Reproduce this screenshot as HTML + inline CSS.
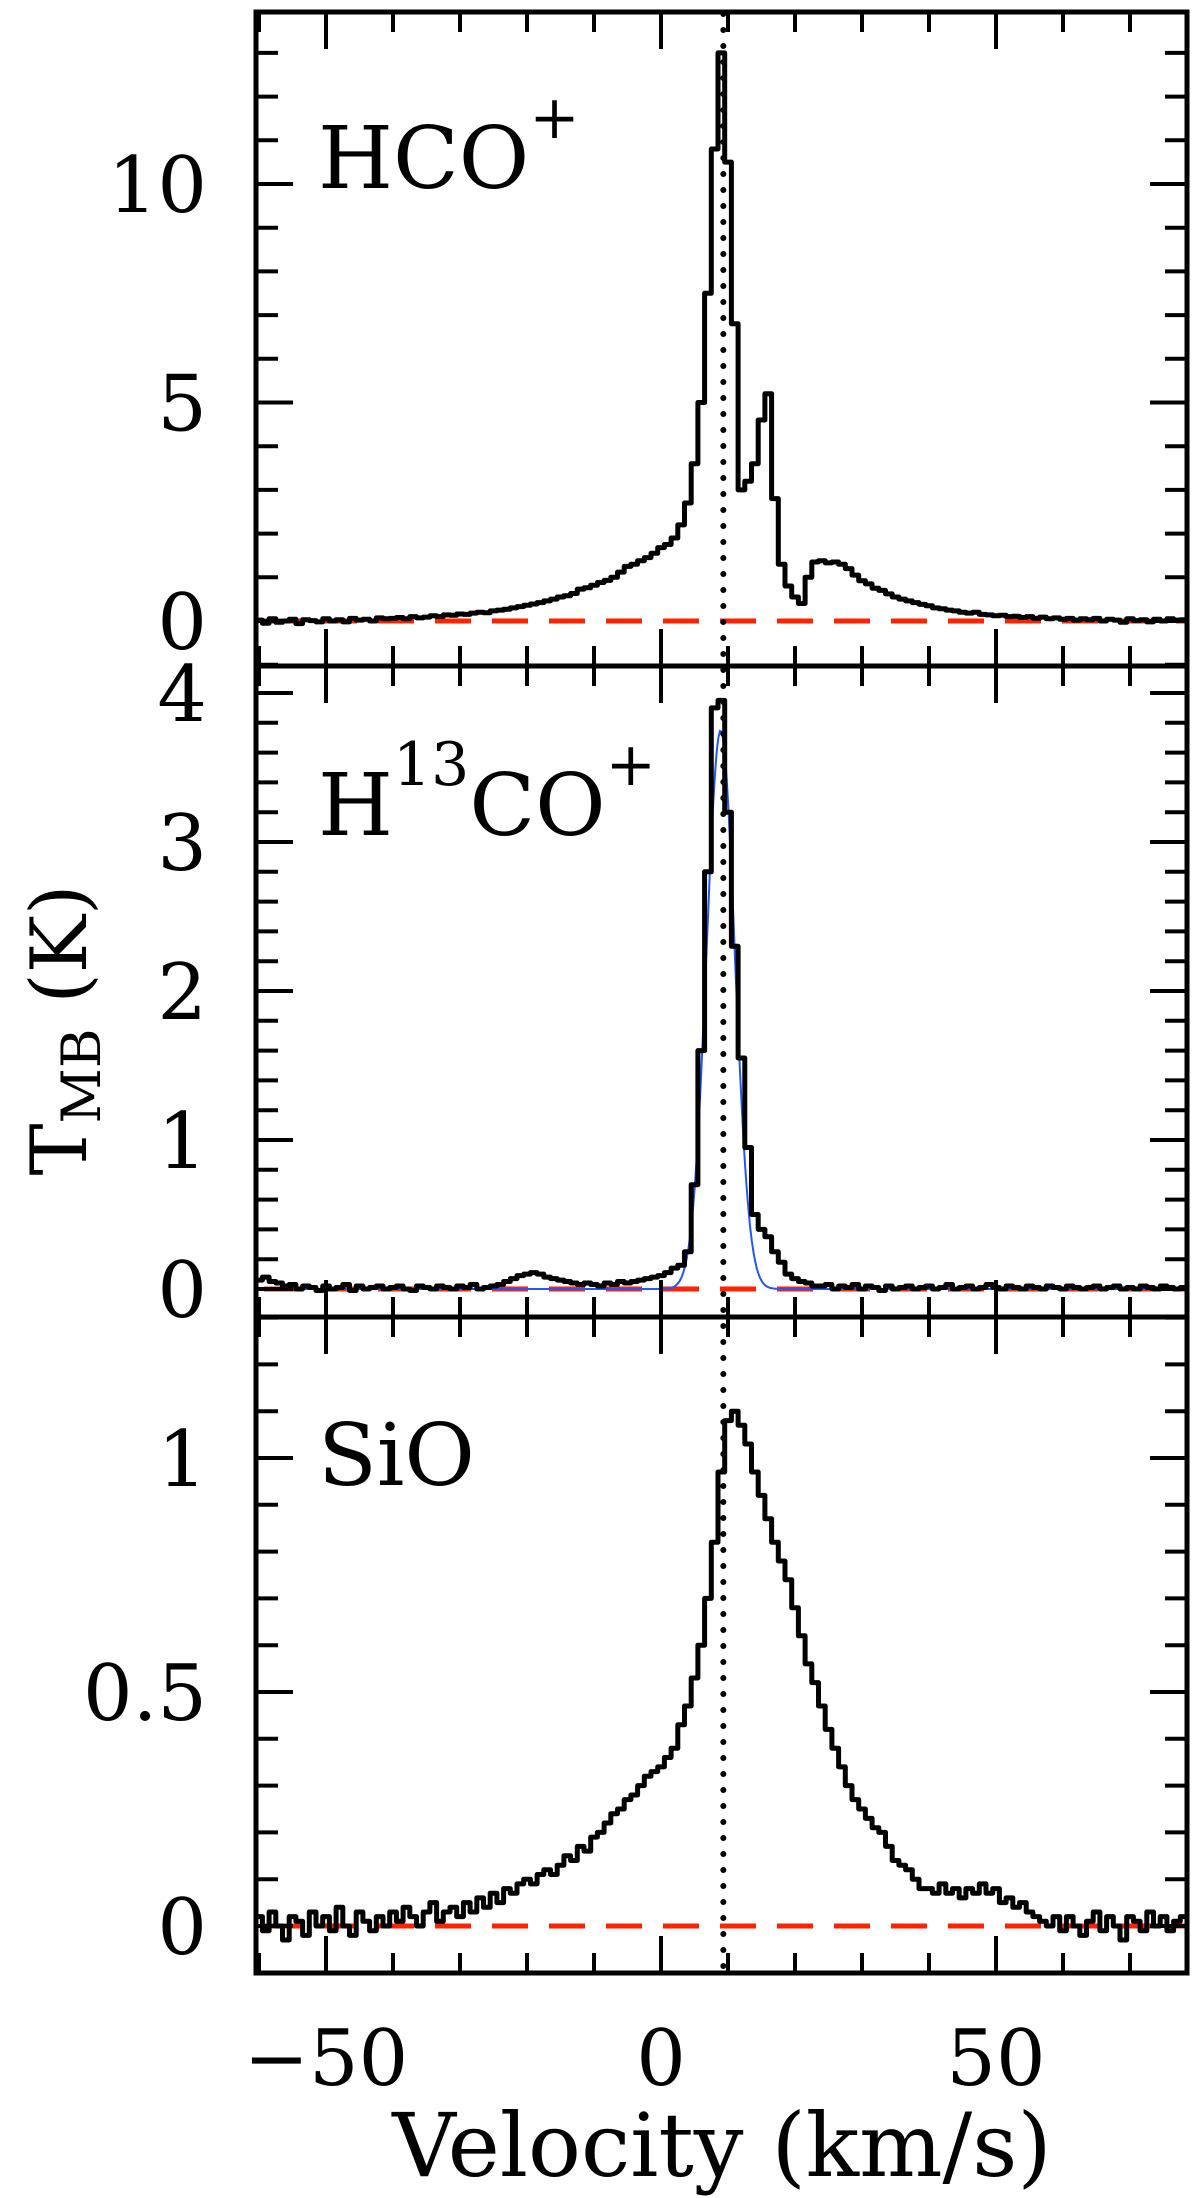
<!DOCTYPE html>
<html><head><meta charset="utf-8"><style>
html,body{margin:0;padding:0;background:#fff;}
svg{display:block;}
text{font-family:"DejaVu Serif","Liberation Serif",serif;fill:#000;}
</style></head><body>
<svg id="chart" width="1200" height="2198" viewBox="0 0 1200 2198" xmlns="http://www.w3.org/2000/svg">
<g id="layer"></g>
</svg>
<script>
// ---- data ----
const velocityStart = -60;      // km/s, first channel centre
const channelWidth = 1;         // km/s
const hcoValues = [
0.02,-0.05,0.05,-0.03,0.0,0.04,-0.06,0.03,0.01,-0.02,0.05,0.0,0.03,-0.02,0.06,0.02,0.04,0.0,0.07,0.05,
0.06,0.08,0.05,0.1,0.07,0.09,0.12,0.1,0.14,0.13,0.16,0.15,0.18,0.2,0.19,0.23,0.25,0.27,0.3,0.33,
0.36,0.39,0.42,0.46,0.5,0.55,0.58,0.63,0.73,0.76,0.82,0.88,0.93,1.0,1.12,1.25,1.3,1.38,1.45,1.55,
1.68,1.75,1.9,2.2,2.7,3.6,5.0,7.5,10.8,13.0,10.5,6.8,3.0,3.2,3.6,4.6,5.2,2.8,1.3,0.8,
0.55,0.4,1.0,1.35,1.38,1.33,1.35,1.3,1.2,1.05,0.92,0.85,0.75,0.7,0.62,0.55,0.5,0.46,0.42,0.38,
0.35,0.3,0.28,0.25,0.23,0.2,0.18,0.2,0.15,0.14,0.12,0.13,0.1,0.11,0.08,0.1,0.06,0.09,0.05,0.07,
0.04,0.06,0.02,0.05,0.03,0.06,0.0,0.04,0.02,-0.03,0.05,0.01,0.03,-0.02,0.04,0.0,0.05,0.02,0.03];
const h13coValues = [
0.06,0.08,0.05,0.04,0.02,0.03,0.0,0.02,0.01,-0.01,0.02,0.0,0.01,0.03,-0.01,0.02,0.0,0.01,0.02,0.0,
0.01,0.02,0.0,-0.01,0.02,0.01,0.0,0.02,0.01,0.0,0.02,0.01,0.03,0.0,0.01,0.02,0.03,0.05,0.07,0.09,
0.1,0.11,0.1,0.08,0.07,0.06,0.05,0.04,0.03,0.04,0.03,0.02,0.04,0.03,0.05,0.04,0.05,0.06,0.07,0.08,
0.09,0.11,0.14,0.16,0.25,0.7,1.6,2.8,3.9,3.95,3.2,2.3,1.55,0.95,0.5,0.4,0.35,0.25,0.18,0.1,
0.07,0.05,0.04,0.02,0.02,0.03,0.0,0.02,0.01,0.03,0.0,0.02,0.01,-0.01,0.02,0.0,0.01,0.02,0.0,0.01,
0.02,0.0,0.01,0.03,0.0,0.01,0.02,0.0,0.01,0.03,0.01,0.0,0.02,0.01,0.0,0.02,0.01,0.0,0.02,0.01,
0.0,0.02,0.01,0.0,0.01,0.02,0.0,0.01,0.02,0.0,0.01,0.0,0.02,0.01,0.0,0.02,0.01,0.0,0.01];
const sioValues = [
0.02,-0.01,0.03,0.0,-0.03,0.02,0.01,-0.02,0.03,0.0,0.02,-0.01,0.04,0.0,-0.02,0.03,0.01,-0.01,0.02,0.0,
0.03,0.01,0.04,0.02,0.0,0.03,0.05,0.01,0.03,0.04,0.02,0.05,0.03,0.06,0.04,0.07,0.05,0.08,0.07,0.09,
0.1,0.09,0.11,0.12,0.11,0.13,0.15,0.14,0.17,0.16,0.19,0.2,0.22,0.24,0.25,0.27,0.28,0.3,0.32,0.33,
0.34,0.36,0.38,0.43,0.47,0.53,0.6,0.7,0.82,0.97,1.08,1.1,1.07,1.03,0.97,0.92,0.87,0.82,0.78,0.74,
0.68,0.62,0.56,0.52,0.47,0.42,0.38,0.34,0.3,0.27,0.25,0.23,0.21,0.2,0.17,0.14,0.13,0.12,0.1,0.08,
0.08,0.07,0.09,0.07,0.08,0.06,0.08,0.07,0.09,0.07,0.08,0.05,0.06,0.04,0.05,0.03,0.02,0.01,0.0,0.02,
-0.01,0.02,0.0,-0.02,0.01,0.03,-0.01,0.02,0.0,-0.03,0.02,0.01,-0.01,0.03,0.0,0.02,-0.01,0.01,0.02];
const gaussFit = [3.75, 8.9, 2.1]; // amplitude K, centre km/s, sigma km/s
const systemicVelocity = 9.3;
const xTickLabels = [-50, 0, 50];
const hcoTickLabels = [0, 5, 10];
const h13coTickLabels = [0, 1, 2, 3, 4];
const sioTickLabels = [0, 0.5, 1];

// ---- layout ----
const NS = "http://www.w3.org/2000/svg";
const layer = document.getElementById('layer');
const X0 = 256, X1 = 1187, VMIN = -60.45, PXV = 6.7;
const xs = v => X0 + (v - VMIN) * PXV;
const VMAX = VMIN + (X1 - X0) / PXV;
const panels = [
  {name:'hco', top:12, bot:666, zero:621, ppk:43.7, major:5, minor:1, ticks:hcoTickLabels, vals:hcoValues},
  {name:'h13co', top:666, bot:1317, zero:1289, ppk:149, major:1, minor:0.2, ticks:h13coTickLabels, vals:h13coValues},
  {name:'sio', top:1317, bot:1973, zero:1926, ppk:468, major:0.5, minor:0.1, ticks:sioTickLabels, vals:sioValues}
];
function mk(tag, attrs, parent){ const e=document.createElementNS(NS,tag); for(const k in attrs) e.setAttribute(k,attrs[k]); (parent||layer).appendChild(e); return e; }

const defs = mk('defs',{});
panels.forEach((p,i)=>{
  const cp = mk('clipPath',{id:'clip'+i},defs);
  mk('rect',{x:X0,y:p.top,width:X1-X0,height:p.bot-p.top},cp);
});

panels.forEach((p,i)=>{
  const ys = t => p.zero - t * p.ppk;
  const g = mk('g',{});
  
  
  const base = mk('line',{x1:X0+8,x2:X1,y1:ys(0),y2:ys(0),stroke:'#ff2200','stroke-width':5,'stroke-dasharray':'36 21'},g);
  
  
  if(p.name==='h13co'){
    let d='';
    for(let v=VMIN; v<=VMAX; v+=0.25){
      const t = gaussFit[0]*Math.exp(-0.5*Math.pow((v-gaussFit[1])/gaussFit[2],2));
      d += (d?'L':'M') + xs(v).toFixed(1) + ' ' + ys(t).toFixed(1);
    }
    const fit = mk('path',{d:d,fill:'none',stroke:'#2255ff','stroke-width':2,'clip-path':'url(#clip'+i+')'},g);
    
    
  }
  let d='';
  p.vals.forEach((t,k)=>{
    const vc = velocityStart + k*channelWidth;
    const xa = xs(vc - channelWidth/2), xb = xs(vc + channelWidth/2), y = ys(t);
    d += (k===0 ? 'M' : 'L') + xa.toFixed(1)+' '+y.toFixed(1) + 'L'+xb.toFixed(1)+' '+y.toFixed(1);
  });
  const sp = mk('path',{d:d,fill:'none',stroke:'#000','stroke-width':5,'stroke-linejoin':'round','clip-path':'url(#clip'+i+')'},g);
  
  
  const fr = mk('rect',{x:X0,y:p.top,width:X1-X0,height:p.bot-p.top,fill:'none',stroke:'#000','stroke-width':5},g);
  
  
  for(let v=-60; v<=VMAX; v+=10){
    const x = xs(v); const L = (v%50===0)?37:20;
    mk('line',{x1:x,x2:x,y1:p.bot,y2:p.bot-L,stroke:'#000','stroke-width':4},g);
    mk('line',{x1:x,x2:x,y1:p.top,y2:p.top+L,stroke:'#000','stroke-width':4},g);
  }
  const tmin = (p.zero - p.bot)/p.ppk, tmax = (p.zero - p.top)/p.ppk;
  const n0 = Math.ceil(tmin/p.minor - 1e-6), n1 = Math.floor(tmax/p.minor + 1e-6);
  for(let n=n0;n<=n1;n++){
    const t = n*p.minor; const y = ys(t);
    const isMajor = Math.abs(t/p.major - Math.round(t/p.major))<1e-6;
    const L = isMajor?37:22;
    mk('line',{x1:X0,x2:X0+L,y1:y,y2:y,stroke:'#000','stroke-width':4},g);
    mk('line',{x1:X1,x2:X1-L,y1:y,y2:y,stroke:'#000','stroke-width':4},g);
  }
  p.ticks.forEach(t=>{
    const tx = mk('text',{x:207,y:ys(t)+28,'text-anchor':'end','font-size':78},g);
    tx.textContent = String(t);
    
    
  });
});

const sv = mk('line',{x1:xs(systemicVelocity),x2:xs(systemicVelocity),y1:14,y2:1973,stroke:'#000','stroke-width':6,'stroke-linecap':'round','stroke-dasharray':'0 16'});



xTickLabels.forEach(v=>{
  const tx = mk('text',{x:xs(v),y:2085,'text-anchor':'middle','font-size':78});
  tx.textContent = v<0 ? '\u2212'+Math.abs(v) : String(v);
  
  
});
</script>
<svg style="position:absolute;left:0;top:0" width="1200" height="2198">
<text x="318" y="188" font-size="86" style="font-family:'DejaVu Serif',serif">HCO<tspan font-size="60" dy="-50">+</tspan></text>
<text x="318" y="835" font-size="86" style="font-family:'DejaVu Serif',serif">H<tspan font-size="60" dy="-50">13</tspan><tspan dy="50">CO</tspan><tspan font-size="60" dy="-50">+</tspan></text>
<text x="318" y="1485" font-size="86" style="font-family:'DejaVu Serif',serif">SiO</text>
<text transform="translate(86,1030) rotate(-90)" text-anchor="middle" font-size="78" style="font-family:'DejaVu Serif',serif">T<tspan font-size="54" dy="14">MB</tspan><tspan dy="-14"> (K)</tspan></text>
<text x="722" y="2176" text-anchor="middle" font-size="88" style="font-family:'DejaVu Serif',serif">Velocity (km/s)</text>
</svg>
</body></html>
